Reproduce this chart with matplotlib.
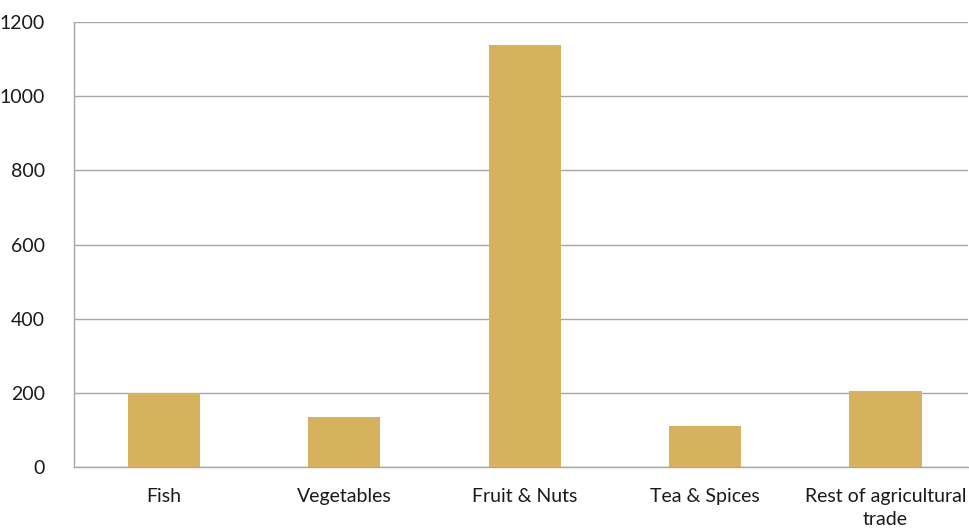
import matplotlib
matplotlib.use('Agg')
import matplotlib.pyplot as plt

categories = ['Fish', 'Vegetables', 'Fruit & Nuts', 'Tea & Spices', 'Rest of agricultural\ntrade']
values = [199, 135, 1138, 110, 205]
yticks = [0, 200, 400, 600, 800, 1000, 1200]

plt.rcParams['font.family'] = ['Lato', 'DejaVu Sans']

fig = plt.figure(figsize=(9.7, 5.28), dpi=100)
ax = fig.add_axes([0.0763, 0.115, 0.922, 0.8435])

x = range(len(categories))
ax.bar(x, values, width=0.4, color='#D6B25E', zorder=3)

ax.set_ylim(0, 1200)
ax.set_xlim(-0.499, 4.459)
ax.set_yticks(yticks)
ax.set_xticks(list(x))
ax.set_xticklabels(categories, linespacing=1.45)
ax.grid(axis='y', color='#A6A6A6', linewidth=1, zorder=0)

for s in ['top', 'right']:
    ax.spines[s].set_visible(False)
for s in ['left', 'bottom']:
    ax.spines[s].set_color('#A6A6A6')
    ax.spines[s].set_linewidth(1)

ax.tick_params(axis='both', length=0, labelsize=14, colors='#1a1a1a')
ax.tick_params(axis='y', pad=21)
ax.tick_params(axis='x', pad=15)

plt.savefig('out.png', dpi=100)
